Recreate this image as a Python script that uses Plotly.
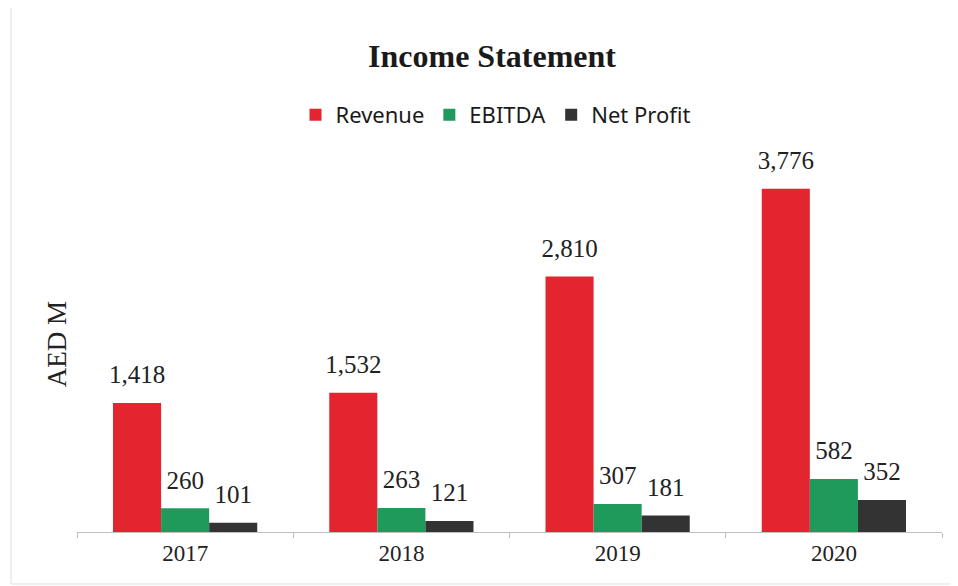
import plotly.graph_objects as go

years = ["2017", "2018", "2019", "2020"]
revenue = [1418, 1532, 2810, 3776]
ebitda = [260, 263, 307, 582]
net_profit = [101, 121, 181, 352]

serif = "Liberation Serif"
sans = "Noto Sans"

# page body has an 8px margin, so the figure is drawn 8px in from the window edge
W, H = 950, 578
L, R, T, B = 69, 16, 133, 54
plot_w = W - L - R
plot_h = H - T - B

fig = go.Figure()
series = [
    ("Revenue", revenue, "#E3252F"),
    ("EBITDA", ebitda, "#1F9A5B"),
    ("Net Profit", net_profit, "#333333"),
]
for name, vals, col in series:
    fig.add_trace(go.Bar(
        x=years, y=vals, name=name, offsetgroup=name,
        marker=dict(color=col, line=dict(width=0)),
    ))
for name, vals, col in series:
    fig.add_trace(go.Scatter(
        x=years, y=vals, offsetgroup=name, mode="markers+text", showlegend=False,
        marker=dict(size=20, opacity=0),
        text=[f"{v:,}" for v in vals], textposition="top center",
        textfont=dict(family=serif, size=25, color="#222222"),
        cliponaxis=False, hoverinfo="skip",
    ))

fig.update_layout(
    width=W, height=H,
    margin=dict(l=L, r=R, t=T, b=B),
    paper_bgcolor="white", plot_bgcolor="white",
    barmode="group", bargap=0.333, bargroupgap=0,
    scattermode="group", scattergap=0.333,
    title=dict(text="<b>Income Statement</b>", x=484 / W, xanchor="center",
               y=1 - 48 / H, yanchor="middle",
               font=dict(family=serif, size=32, color="#1a1a1a")),
    legend=dict(orientation="h", x=0.5 - 14 / plot_w, xanchor="center",
                y=(524 - 107) / plot_h, yanchor="middle",
                font=dict(family=sans, size=22, color="#1a1a1a"),
                itemwidth=30, traceorder="normal"),
)
fig.update_xaxes(
    showline=True, linecolor="#bfbfbf", linewidth=1,
    ticks="outside", tickson="boundaries", ticklen=5, tickcolor="#bfbfbf",
    tickfont=dict(family=serif, size=23, color="#222222"),
    showgrid=False,
)
fig.update_yaxes(range=[0, 4300], showticklabels=False, showgrid=False,
                 zeroline=False, showline=False, ticks="")
fig.add_annotation(text="AED M", xref="paper", yref="paper", x=-20 / plot_w, y=0.48,
                   xanchor="center", yanchor="middle", textangle=-90, showarrow=False,
                   font=dict(family=serif, size=27, color="#222222"))
fig.add_shape(type="rect", xref="paper", yref="paper",
              x0=(3 - L) / plot_w, x1=1 + (R - 1) / plot_w,
              y0=-(B - 2) / plot_h, y1=1 + (T + 4) / plot_h,
              line=dict(color="#dddddd", width=1))

fig.write_html("out.html")
